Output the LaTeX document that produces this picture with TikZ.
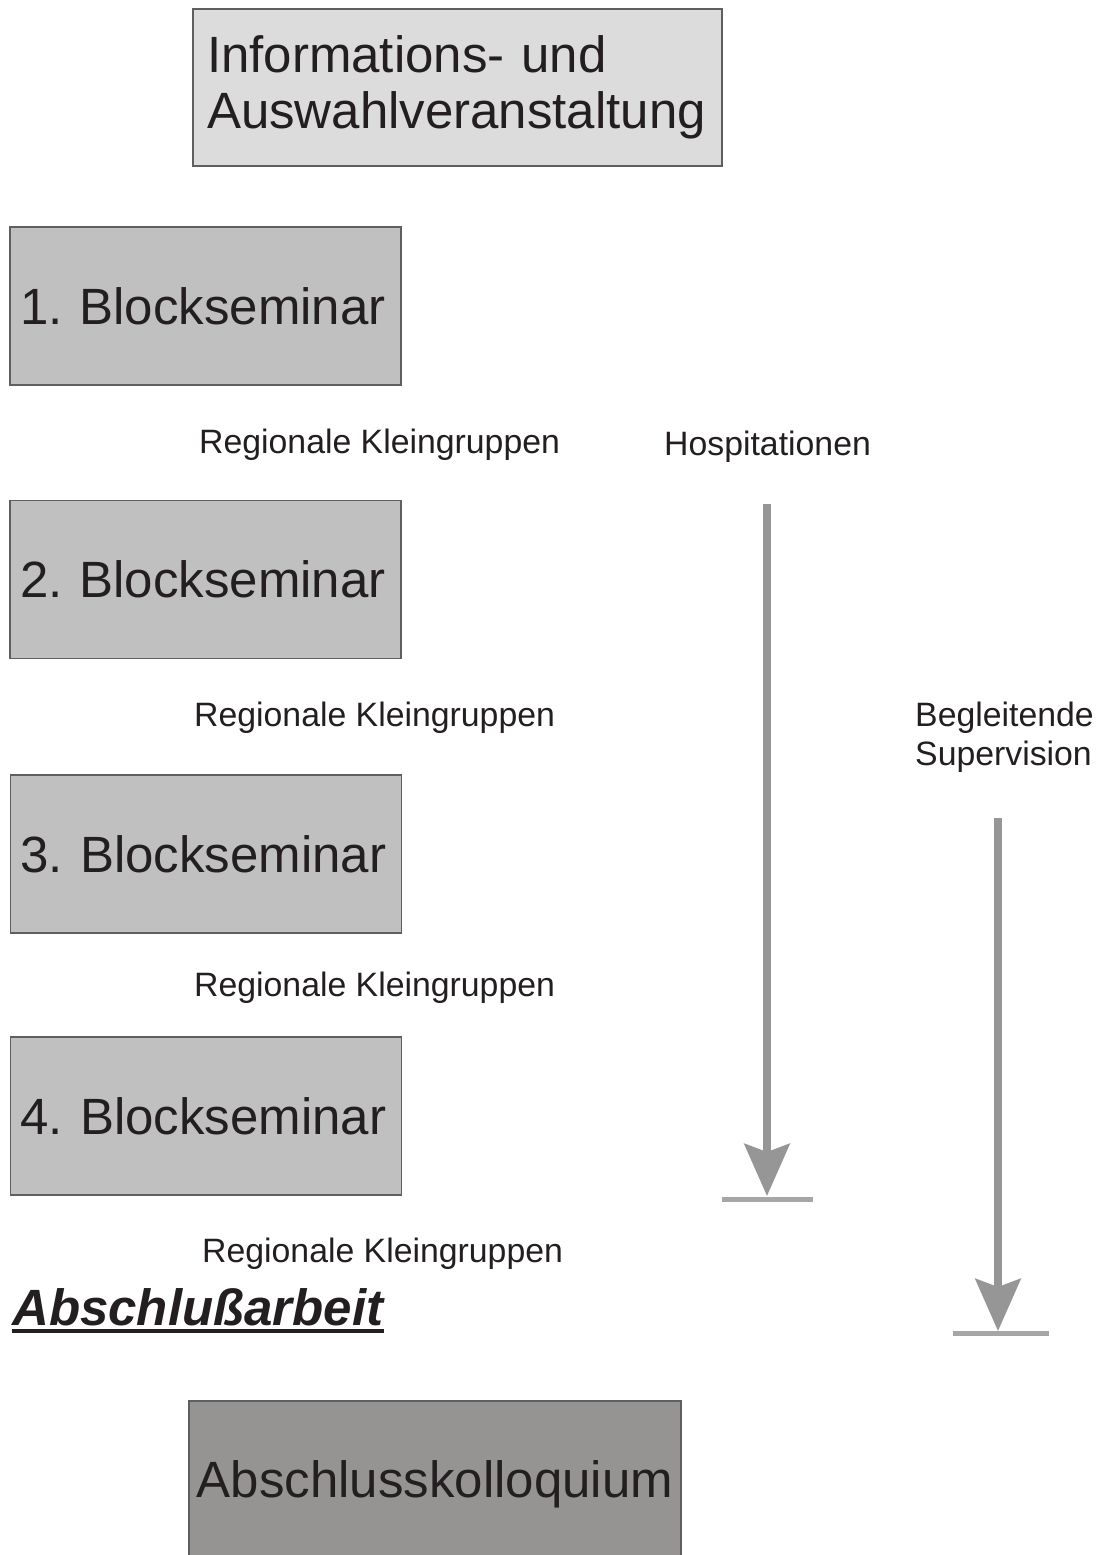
\documentclass[tikz,border=0pt]{standalone}
\usepackage{fontspec}
\setmainfont{Liberation Sans}
\usetikzlibrary{arrows.meta}
\definecolor{txt}{HTML}{231F20}
\definecolor{edge}{HTML}{5F5F5F}
\definecolor{infofill}{HTML}{DCDCDC}
\definecolor{blockfill}{HTML}{C0C0C0}
\definecolor{finalfill}{HTML}{959493}
\definecolor{arrowgray}{HTML}{969696}
\definecolor{bargray}{HTML}{A6A6A6}
\begin{document}
\begin{tikzpicture}[x=1pt,y=-1pt,
  box/.style={draw=edge, line width=1.3pt, rectangle, text=txt,
    font=\fontsize{51}{56}\selectfont\frenchspacing, align=left, inner sep=0pt},
  blockbox/.style={box, fill=blockfill, minimum width=391pt, minimum height=158pt,
    text width=371pt, inner xsep=10pt, text depth=0pt},
  small/.style={text=txt, font=\fontsize{33.8}{38.5}\selectfont, inner sep=0pt,
    anchor=base west, align=left},
  flow/.style={draw=arrowgray, line width=8pt,
    -{Stealth[length=52pt,width=45pt,inset=8pt,fill=arrowgray]}},
  stopbar/.style={draw=bargray, line width=4.5pt}
]
\useasboundingbox (0,0) rectangle (1106,1555);
\fill[white] (0,0) rectangle (1106,1555);

% boxes
\node[box, fill=infofill, minimum width=529pt, minimum height=157pt,
  text width=501pt, inner xsep=14pt] (info) at (457.5,87.5)
  {Informations- und\\Auswahlveranstaltung};
\node[blockbox] (b1) at (205.5,306) {1. Blockseminar};
\node[blockbox] (b2) at (205.5,579.5) {2. Blockseminar};
\node[blockbox] (b3) at (206,854) {3. Blockseminar};
\node[blockbox] (b4) at (206,1116) {4. Blockseminar};
\node[box, fill=finalfill, minimum width=492pt, minimum height=157pt,
  text depth=0pt, align=center] (final) at (435,1479.5) {Abschlusskolloquium};

% labels
\node[small] (rk1) at (199,453) {Regionale Kleingruppen};
\node[small] (rk2) at (194,726) {Regionale Kleingruppen};
\node[small] (rk3) at (194,996) {Regionale Kleingruppen};
\node[small] (rk4) at (202,1262) {Regionale Kleingruppen};
\node[small] (hosp) at (664,455) {Hospitationen};
\node[small, anchor=north west] (sup) at (915,702) {Begleitende\\Supervision};

\node[text=txt, font=\fontsize{51}{56}\selectfont\bfseries\itshape,
  anchor=base west, inner sep=0pt] (thesis) at (12,1325) {Abschlußarbeit};
\draw[txt, line width=3.3pt] ([yshift=-6pt]thesis.base west) -- ([yshift=-6pt]thesis.base east);

% arrows
\coordinate (h0) at (767,504);
\coordinate (h1) at (767,1196);
\coordinate (hl) at (722,1199.5);
\coordinate (hr) at (813,1199.5);
\coordinate (s0) at (998,818);
\coordinate (s1) at (998,1331);
\coordinate (sl) at (953,1333.5);
\coordinate (sr) at (1049,1333.5);
\draw[flow] (h0) -- (h1);
\draw[stopbar] (hl) -- (hr);
\draw[flow] (s0) -- (s1);
\draw[stopbar] (sl) -- (sr);
\end{tikzpicture}
\end{document}
